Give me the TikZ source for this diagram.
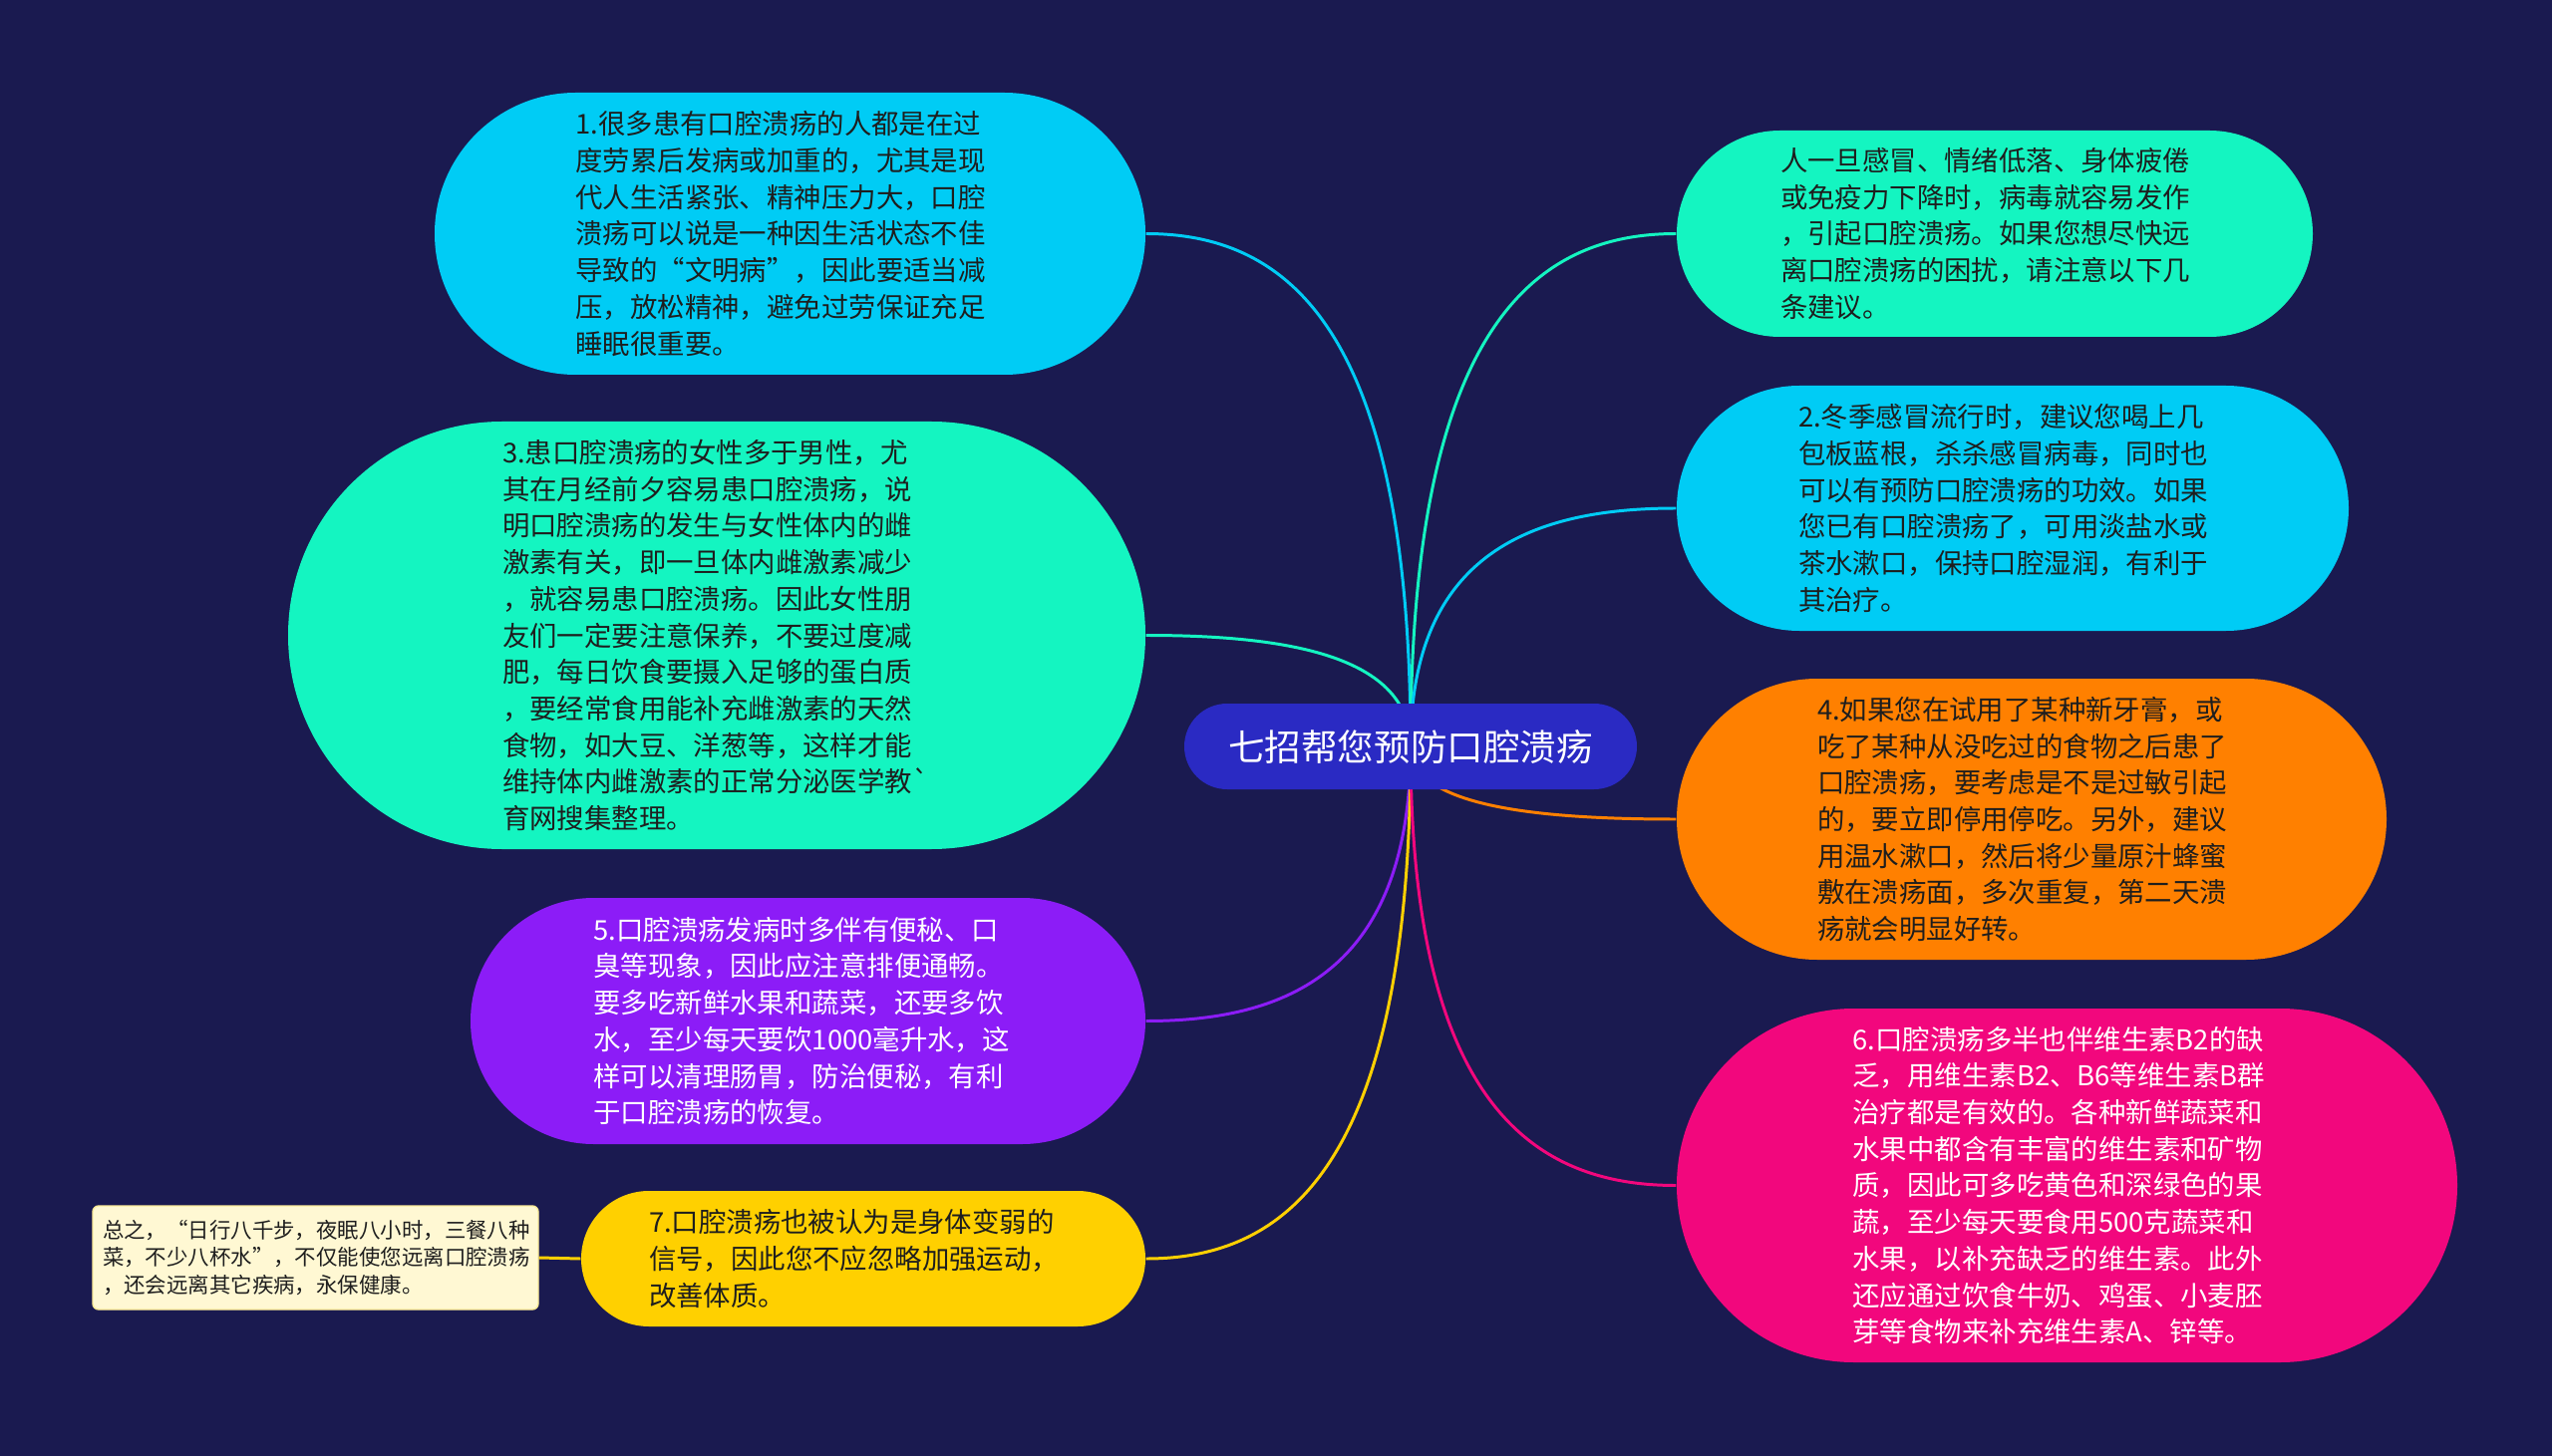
\documentclass[tikz,border=0pt]{standalone}
\usepackage{fontspec}
\usepackage{tikz}
\usetikzlibrary{calc}
\newfontfamily\cjk{Noto Sans CJK SC}

\definecolor{bgnavy}{HTML}{1A1A50}
\definecolor{rootblue}{HTML}{2A2AC3}
\definecolor{cyanA}{HTML}{00CCF5}
\definecolor{mintA}{HTML}{14F5C1}
\definecolor{purpleA}{HTML}{8C1CF7}
\definecolor{yellowA}{HTML}{FFD000}
\definecolor{orangeA}{HTML}{FF8000}
\definecolor{pinkA}{HTML}{F2077D}
\definecolor{leafcream}{HTML}{FFF8D3}
\definecolor{inkdark}{HTML}{1E1E1E}

\pgfdeclarelayer{bg}
\pgfsetlayers{bg,main}

\tikzset{
    bubble/.style={rectangle, rounded corners=#1, inner sep=0pt, text width=4.3cm,
        align=left, text=inkdark, font=\cjk\fontsize{7.8}{10.44}\selectfont},
    link/.style={line width=0.85pt},
}

\begin{document}
\begin{tikzpicture}
        % Canvas
        \useasboundingbox (0,0) rectangle (25.6,-14.61);

        % Root
        \node[rectangle, rounded corners=0.43cm, fill=rootblue, text=white, inner sep=0pt,
            minimum width=4.54cm, minimum height=0.86cm, font=\cjk\fontsize{10.4}{12}\selectfont]
            (root) at (14.15,-7.49) {七招帮您预防口腔溃疡};

        % Left side
        \node[bubble=1.415cm, fill=cyanA, minimum width=7.13cm, minimum height=2.83cm] (n1) at (7.925,-2.345)
            {1.很多患有口腔溃疡的人都是在过\\度劳累后发病或加重的，尤其是现\\代人生活紧张、精神压力大，口腔\\溃疡可以说是一种因生活状态不佳\\导致的“文明病”，因此要适当减\\压，放松精神，避免过劳保证充足\\睡眠很重要。};
        \node[bubble=2.145cm, fill=mintA, minimum width=8.6cm, minimum height=4.29cm] (n3) at (7.19,-6.375)
            {3.患口腔溃疡的女性多于男性，尤\\其在月经前夕容易患口腔溃疡，说\\明口腔溃疡的发生与女性体内的雌\\激素有关，即一旦体内雌激素减少\\，就容易患口腔溃疡。因此女性朋\\友们一定要注意保养，不要过度减\\肥，每日饮食要摄入足够的蛋白质\\，要经常食用能补充雌激素的天然\\食物，如大豆、洋葱等，这样才能\\维持体内雌激素的正常分泌医学教\textasciigrave\\育网搜集整理。};
        \node[bubble=1.235cm, fill=purpleA, text=white, minimum width=6.77cm, minimum height=2.47cm] (n5) at (8.105,-10.245)
            {5.口腔溃疡发病时多伴有便秘、口\\臭等现象，因此应注意排便通畅。\\要多吃新鲜水果和蔬菜，还要多饮\\水，至少每天要饮1000毫升水，这\\样可以清理肠胃，防治便秘，有利\\于口腔溃疡的恢复。};
        \node[bubble=0.68cm, fill=yellowA, minimum width=5.66cm, minimum height=1.36cm] (n7) at (8.66,-12.63)
            {7.口腔溃疡也被认为是身体变弱的\\信号，因此您不应忽略加强运动，\\改善体质。};
        \node[rectangle, rounded corners=0.06cm, fill=leafcream, draw=yellowA!40, inner sep=0pt,
            minimum width=4.47cm, minimum height=1.04cm, text width=4.27cm, align=left, text=inkdark,
            font=\cjk\fontsize{6.1}{7.9}\selectfont] (leaf) at (3.165,-12.62)
            {总之，“日行八千步，夜眠八小时，三餐八种\\菜，不少八杯水”，不仅能使您远离口腔溃疡\\，还会远离其它疾病，永保健康。};

        % Right side
        \node[bubble=1.035cm, fill=mintA, minimum width=6.38cm, minimum height=2.07cm] (intro) at (20.01,-2.345)
            {人一旦感冒、情绪低落、身体疲倦\\或免疫力下降时，病毒就容易发作\\，引起口腔溃疡。如果您想尽快远\\离口腔溃疡的困扰，请注意以下几\\条建议。};
        \node[bubble=1.23cm, fill=cyanA, minimum width=6.74cm, minimum height=2.46cm] (n2) at (20.19,-5.1)
            {2.冬季感冒流行时，建议您喝上几\\包板蓝根，杀杀感冒病毒，同时也\\可以有预防口腔溃疡的功效。如果\\您已有口腔溃疡了，可用淡盐水或\\茶水漱口，保持口腔湿润，有利于\\其治疗。};
        \node[bubble=1.41cm, fill=orangeA, minimum width=7.12cm, minimum height=2.82cm] (n4) at (20.38,-8.22)
            {4.如果您在试用了某种新牙膏，或\\吃了某种从没吃过的食物之后患了\\口腔溃疡，要考虑是不是过敏引起\\的，要立即停用停吃。另外，建议\\用温水漱口，然后将少量原汁蜂蜜\\敷在溃疡面，多次重复，第二天溃\\疡就会明显好转。};
        \node[bubble=1.775cm, fill=pinkA, text=white, minimum width=7.83cm, minimum height=3.55cm] (n6) at (20.735,-11.895)
            {6.口腔溃疡多半也伴维生素B2的缺\\乏，用维生素B2、B6等维生素B群\\治疗都是有效的。各种新鲜蔬菜和\\水果中都含有丰富的维生素和矿物\\质，因此可多吃黄色和深绿色的果\\蔬，至少每天要食用500克蔬菜和\\水果，以补充缺乏的维生素。此外\\还应通过饮食牛奶、鸡蛋、小麦胚\\芽等食物来补充维生素A、锌等。};

        % Background and branches
        \begin{pgfonlayer}{bg}
            \fill[bgnavy] (0,0) rectangle (25.6,-14.61);
            \foreach \n/\c/\a in {n1/cyanA/east, n3/mintA/east, n5/purpleA/east, n7/yellowA/east,
                                  intro/mintA/west, n2/cyanA/west, n4/orangeA/west, n6/pinkA/west}
                \draw[link, draw=\c] (root.center)
                    .. controls ($(root.center)!0.82!(root.center|-\n.\a)$)
                    and ($(\n.\a)!0.53!(root.center|-\n.\a)$) .. (\n.\a);
            \draw[link, draw=yellowA] (n7.west) -- (leaf.east);
        \end{pgfonlayer}
    \end{tikzpicture}
\end{document}
